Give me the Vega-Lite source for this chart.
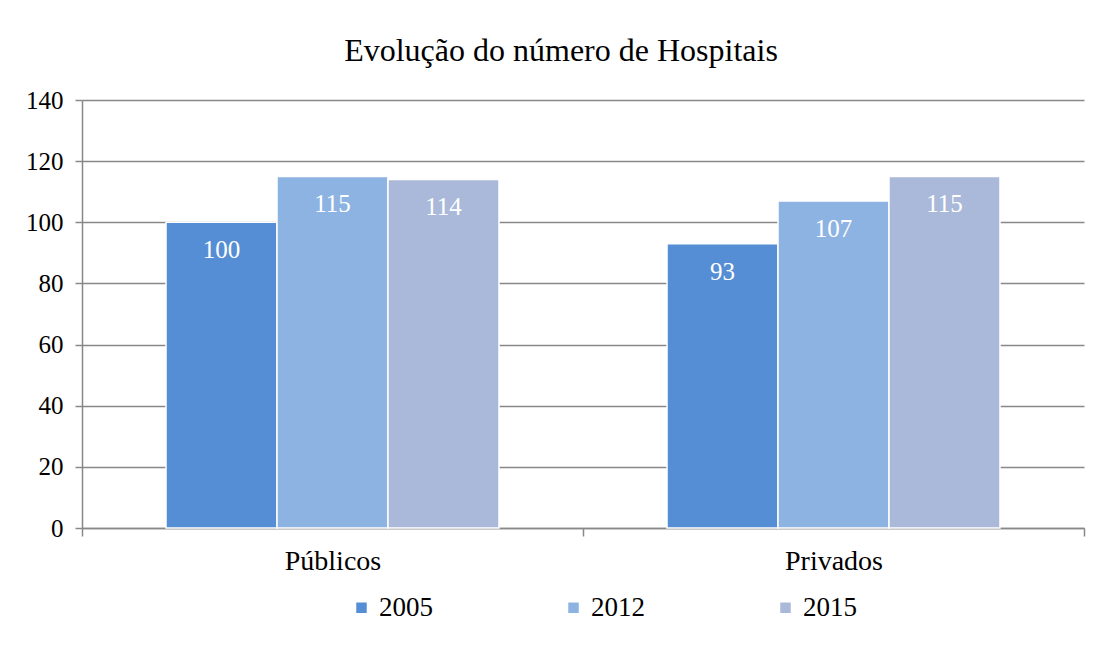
{
  "$schema": "https://vega.github.io/schema/vega-lite/v6.json",
  "width": 1002,
  "height": 428,
  "autosize": {"type": "none"},
  "padding": {"left": 82, "top": 100, "right": 17, "bottom": 120},
  "background": "white",
  "title": {
    "text": "Evolução do número de Hospitais",
    "font": "Liberation Serif",
    "fontSize": 32,
    "fontWeight": "normal",
    "color": "#000000",
    "anchor": "middle",
    "dx": -22,
    "offset": 20
  },
  "data": {
    "values": [
      {"tipo": "Públicos", "ano": "2005", "valor": 100},
      {"tipo": "Públicos", "ano": "2012", "valor": 115},
      {"tipo": "Públicos", "ano": "2015", "valor": 114},
      {"tipo": "Privados", "ano": "2005", "valor": 93},
      {"tipo": "Privados", "ano": "2012", "valor": 107},
      {"tipo": "Privados", "ano": "2015", "valor": 115}
    ]
  },
  "encoding": {
    "x": {
      "field": "tipo",
      "type": "nominal",
      "sort": ["Públicos", "Privados"],
      "scale": {"paddingInner": 0, "paddingOuter": 0},
      "axis": {
        "title": null,
        "labelAngle": 0,
        "labelFont": "Liberation Serif",
        "labelFontSize": 28,
        "labelColor": "#000000",
        "labelPadding": 11,
        "domainColor": "#888888",
        "domainWidth": 1.5,
        "tickColor": "#888888",
        "tickWidth": 1.5,
        "tickSize": 8,
        "tickBand": "extent",
        "grid": false
      }
    },
    "xOffset": {
      "field": "ano",
      "type": "nominal",
      "scale": {"paddingInner": 0, "paddingOuter": 0.757}
    },
    "y": {
      "field": "valor",
      "type": "quantitative",
      "scale": {"domain": [0, 140]},
      "axis": {
        "title": null,
        "values": [0, 20, 40, 60, 80, 100, 120, 140],
        "labelFont": "Liberation Serif",
        "labelFontSize": 25,
        "labelColor": "#000000",
        "labelPadding": 12,
        "domainColor": "#888888",
        "domainWidth": 1.5,
        "tickColor": "#888888",
        "tickWidth": 1.5,
        "tickSize": 7,
        "gridColor": "#888888",
        "gridWidth": 1.5
      }
    }
  },
  "layer": [
    {
      "mark": {"type": "bar", "stroke": "white", "strokeWidth": 1.5},
      "encoding": {
        "color": {
          "field": "ano",
          "type": "nominal",
          "scale": {
            "domain": ["2005", "2012", "2015"],
            "range": ["#558ed5", "#8db3e2", "#aab9d9"]
          },
          "legend": {
            "title": null,
            "orient": "none",
            "legendX": 266,
            "legendY": 494,
            "direction": "horizontal",
            "columns": 3,
            "symbolType": "square",
            "symbolSize": 110,
            "symbolStrokeWidth": 0,
            "labelFont": "Liberation Serif",
            "labelFontSize": 27,
            "labelColor": "#000000",
            "columnPadding": 127,
            "labelOffset": 4
          }
        }
      }
    },
    {
      "mark": {
        "type": "text",
        "color": "white",
        "font": "Liberation Serif",
        "fontSize": 25,
        "baseline": "top",
        "dy": 16
      },
      "encoding": {
        "text": {"field": "valor", "type": "quantitative"}
      }
    }
  ],
  "config": {
    "view": {"stroke": null}
  }
}
